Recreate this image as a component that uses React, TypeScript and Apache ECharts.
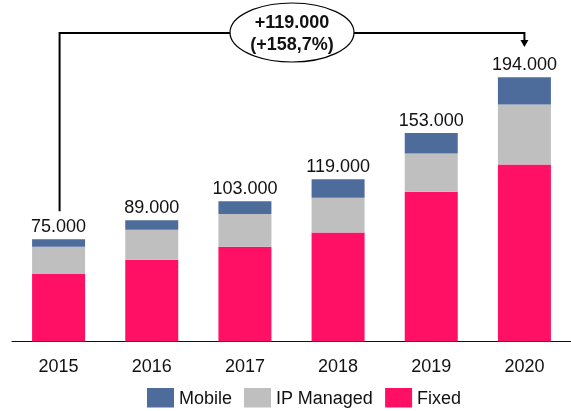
import React, { useEffect, useRef } from "react";
import * as echarts from "echarts";

const years = ["2015", "2016", "2017", "2018", "2019", "2020"];
const fixed = [49500, 60000, 69500, 80000, 110000, 130000];
const ipManaged = [20000, 22000, 24000, 25500, 28000, 44000];
const mobile = [5500, 7000, 9500, 13500, 15000, 20000];

const FONT = "'Liberation Sans', Arial, Helvetica, sans-serif";

const fmtThousands = (v: number) =>
  Math.round(v).toString().replace(/\B(?=(\d{3})+(?!\d))/g, ".");

export default function App() {
  const ref = useRef<HTMLDivElement>(null);

  useEffect(() => {
    if (!ref.current) return;
    const chart = echarts.init(ref.current, undefined, { renderer: "svg" });
    const totals = years.map((_, i) => fixed[i] + ipManaged[i] + mobile[i]);

    chart.setOption({
      animation: false,
      grid: { left: 12, top: 69, width: 565, height: 272.5, containLabel: false },
      legend: {
        data: ["Mobile", "IP Managed", "Fixed"],
        left: 147,
        top: 388,
        padding: 0,
        itemWidth: 27,
        itemHeight: 19.5,
        itemGap: 12,
        icon: "rect",
        textStyle: { fontSize: 18, color: "#111", fontFamily: FONT },
      },
      xAxis: {
        type: "category",
        data: years,
        axisLine: { lineStyle: { color: "#111", width: 1 } },
        axisTick: { show: false },
        axisLabel: { fontSize: 18, color: "#111", fontFamily: FONT, margin: 15 },
      },
      yAxis: {
        type: "value",
        min: 0,
        max: 200000,
        show: false,
        splitLine: { show: false },
      },
      series: [
        {
          name: "Fixed",
          type: "bar",
          stack: "t",
          data: fixed,
          barWidth: 53,
          itemStyle: { color: "#FF1064" },
        },
        {
          name: "IP Managed",
          type: "bar",
          stack: "t",
          data: ipManaged,
          barWidth: 53,
          itemStyle: { color: "#BFBFBF" },
        },
        {
          name: "Mobile",
          type: "bar",
          stack: "t",
          data: mobile,
          barWidth: 53,
          itemStyle: { color: "#4D6B9B" },
          label: {
            show: true,
            position: "top",
            distance: 4,
            fontSize: 18,
            color: "#111",
            fontFamily: FONT,
            formatter: (p: any) => fmtThousands(totals[p.dataIndex]),
          },
        },
      ],
    });

    // annotation built from axis positions
    const first = 0;
    const last = years.length - 1;
    const x0 = chart.convertToPixel({ xAxisIndex: 0 }, years[first]) as number;
    const x1 = chart.convertToPixel({ xAxisIndex: 0 }, years[last]) as number;
    const yTop0 = chart.convertToPixel({ yAxisIndex: 0 }, totals[first]) as number;
    const yLine = 33;
    const cx = (x0 + x1) / 2 + 0.5;
    const rx = 62;
    const ry = 29.5;
    const diff = totals[last] - totals[first];
    const pct = ((diff / totals[first]) * 100).toFixed(1).replace(".", ",");

    chart.setOption({
      graphic: [
        {
          type: "polyline",
          shape: { points: [[x0 + 1, yTop0 - 28], [x0 + 1, yLine], [cx - rx, yLine]] },
          style: { stroke: "#000", lineWidth: 2, fill: "none" },
        },
        {
          type: "polyline",
          shape: { points: [[cx + rx, yLine], [x1, yLine], [x1, yLine + 8]] },
          style: { stroke: "#000", lineWidth: 2, fill: "none" },
        },
        {
          type: "polygon",
          shape: { points: [[x1 - 4, yLine + 7], [x1 + 4, yLine + 7], [x1, yLine + 14]] },
          style: { fill: "#000" },
        },
        {
          type: "ellipse",
          shape: { cx: cx, cy: yLine - 0.5, rx: rx, ry: ry },
          style: { fill: "#fff", stroke: "#000", lineWidth: 1.2 },
        },
        {
          type: "text",
          x: cx,
          y: yLine - 11,
          style: {
            text: "+" + fmtThousands(diff),
            fontSize: 18,
            fontWeight: "bold",
            fontFamily: FONT,
            fill: "#111",
            align: "center",
            verticalAlign: "middle",
          },
        },
        {
          type: "text",
          x: cx,
          y: yLine + 10.5,
          style: {
            text: "(+" + pct + "%)",
            fontSize: 18,
            fontWeight: "bold",
            fontFamily: FONT,
            fill: "#111",
            align: "center",
            verticalAlign: "middle",
          },
        },
      ],
    });

    return () => chart.dispose();
  }, []);

  return (
    <div
      ref={ref}
      style={{ position: "fixed", left: 0, top: 0, width: 571, height: 411 }}
    />
  );
}
